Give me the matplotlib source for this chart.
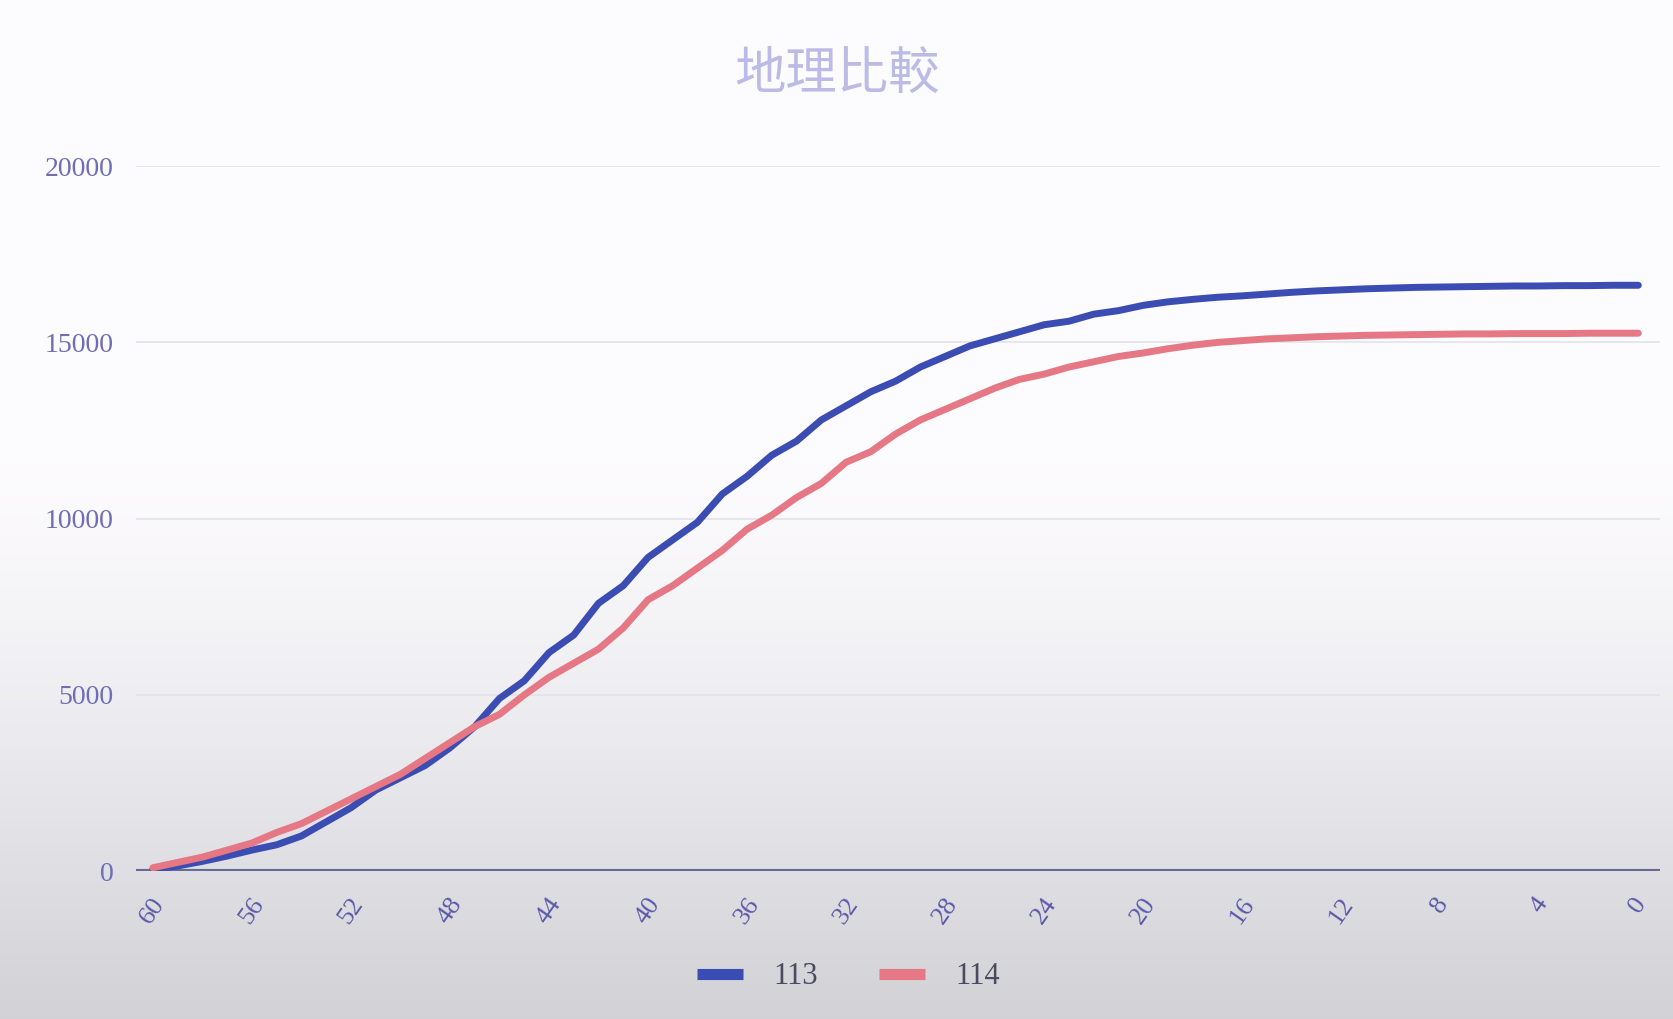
import numpy as np
import matplotlib.pyplot as plt

# x positions (counting down from 60 to 0)
x_vals = list(range(60, -1, -1))
x_ticks = list(range(60, -1, -4))

s113 = [50, 150, 280, 430, 600, 750, 1000, 1400, 1800, 2300,
        2650, 3000, 3500, 4100, 4900, 5400, 6200, 6700, 7600, 8100,
        8900, 9400, 9900, 10700, 11200, 11800, 12200, 12800, 13200, 13600,
        13900, 14300, 14600, 14900, 15100, 15300, 15500, 15600, 15800, 15900,
        16050, 16150, 16220, 16280, 16320, 16370, 16420, 16460, 16490, 16520,
        16540, 16560, 16570, 16580, 16590, 16600, 16600, 16610, 16610, 16620, 16620]
s114 = [100, 250, 400, 600, 800, 1100, 1350, 1700, 2050, 2400,
        2750, 3200, 3650, 4100, 4450, 5000, 5500, 5900, 6300, 6900,
        7700, 8100, 8600, 9100, 9700, 10100, 10600, 11000, 11600, 11900,
        12400, 12800, 13100, 13400, 13700, 13950, 14100, 14300, 14450, 14600,
        14700, 14820, 14920, 15000, 15050, 15100, 15130, 15160, 15180, 15200,
        15210, 15220, 15230, 15240, 15240, 15250, 15250, 15250, 15260, 15260, 15260]

fig = plt.figure(figsize=(16.73, 10.19), dpi=100)

# photo-like background: white on top fading to light grey at the bottom
bg = fig.add_axes([0, 0, 1, 1], zorder=-1)
t = np.linspace(0, 1, 300)
shade = np.where(t < 0.45, 0.0, ((t - 0.45) / 0.55) ** 1.3)
top = np.array([0.99, 0.985, 0.995])
bot = np.array([0.82, 0.82, 0.84])
grad = top[None, :] * (1 - shade[:, None]) + bot[None, :] * shade[:, None]
bg.imshow(grad[:, None, :], aspect='auto', extent=[0, 1, 0, 1])
bg.axis('off')

ax = fig.add_axes([0.081, 0.145, 0.911, 0.692])
ax.set_facecolor('none')

ax.plot(x_vals, s113, color='#3b4cb3', lw=5, label='113', solid_capstyle='round')
ax.plot(x_vals, s114, color='#e57884', lw=5, label='114', solid_capstyle='round')

ax.set_xlim(60.7, -0.86)
ax.set_ylim(0, 20000)
ax.set_xticks(x_ticks)
ax.set_xticklabels([str(v) for v in x_ticks], rotation=55, fontsize=19,
                   family='Liberation Serif', color='#5a58a8', ha='center')
ax.set_yticks([0, 5000, 10000, 15000, 20000])
ax.set_yticklabels(['0', '5000', '10000', '15000', '20000'], fontsize=20,
                   family='Liberation Serif', color='#6f6db5')
ax.tick_params(axis='y', length=0, pad=16)
ax.tick_params(axis='x', length=0, pad=16)
ax.grid(axis='y', color='#e2e2ea', lw=1.2)
ax.set_axisbelow(True)
for sp in ax.spines.values():
    sp.set_visible(False)
ax.axhline(0, color='#6a6a9a', lw=3, zorder=1)

fig.text(0.5, 0.927, '地理比較', ha='center', va='center', fontsize=37,
         color='#bcbbe8', family=['Noto Sans CJK TC', 'DejaVu Sans'])

leg = ax.legend(loc='upper center', bbox_to_anchor=(0.468, -0.09), ncol=2,
                frameon=False, handlelength=1.5, handletextpad=1.0,
                columnspacing=2.0, prop={'family': 'Liberation Serif', 'size': 22})
for h in leg.get_lines():
    h.set_linewidth(8)
    h.set_solid_capstyle('butt')
for txt in leg.get_texts():
    txt.set_color('#4a4a60')

fig.savefig('out.png', dpi=100)
